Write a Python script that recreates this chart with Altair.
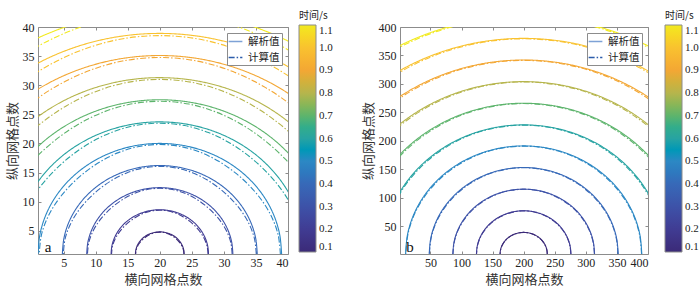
import numpy as np
import pandas as pd
import altair as alt

# ---- values ----
levels = [0.1, 0.2, 0.3, 0.4, 0.5, 0.6, 0.7, 0.8, 0.9, 1.0, 1.1]          # contour times (s)
radius_a = [3.8, 7.6, 11.4, 15.2, 19.0, 22.7, 26.5, 30.3, 34.1, 37.9, 41.7]  # analytic radius, grid 40
radius_b = [38, 76, 114, 152, 190, 227, 265, 303, 341, 379, 417]           # analytic radius, grid 400
center_a = [20, 1]
center_b = [200, 1]
angles = [0, 10, 20, 30, 40, 50, 60, 70, 80, 90, 100, 110, 120, 130, 140, 150, 160, 170, 180]
# computed / analytic radius ratio along the front
ratio_a = [0.990, 0.987, 0.978, 0.968, 0.961, 0.961, 0.968, 0.978, 0.987, 0.990,
           0.987, 0.978, 0.968, 0.961, 0.961, 0.968, 0.978, 0.987, 0.990]
ratio_b = [0.998, 0.997, 0.996, 0.994, 0.993, 0.993, 0.994, 0.996, 0.997, 0.998,
           0.997, 0.996, 0.994, 0.993, 0.993, 0.994, 0.996, 0.997, 0.998]
ticks_a = [5, 10, 15, 20, 25, 30, 35, 40]
ticks_b = [50, 100, 150, 200, 250, 300, 350, 400]
color_stops = ["#3b2a78", "#403c93", "#3d52a8", "#3769b8", "#2c88c4", "#27a3a2",
               "#5db46c", "#b6b54c", "#f3a734", "#f9c22f", "#f2ea1f"]
types = ["解析值", "计算值"]

SERIF = "Liberation Serif, Noto Sans CJK SC"
CJK = "Noto Sans CJK SC"
BOX = "#8c8c8c"
H = 227


def fronts(radii, center, ratio):
    rows = []
    for lv, r in zip(levels, radii):
        for k, ang in enumerate(angles):
            th = np.deg2rad(ang)
            for t, f in ((types[0], 1.0), (types[1], ratio[k])):
                rows.append({"level": lv, "type": t, "idx": k,
                             "x": center[0] + r * f * np.cos(th),
                             "y": center[1] + r * f * np.sin(th)})
    return pd.DataFrame(rows)


def panel(df, dom, ticks, W, tag, cb_gap):
    xs = alt.Scale(domain=dom, nice=False, zero=False)
    ys = alt.Scale(domain=dom, nice=False, zero=False)
    color = alt.Color("level:Q",
                      scale=alt.Scale(domain=levels, range=color_stops),
                      legend=alt.Legend(title="时间/s", orient="none", legendX=W + cb_gap, legendY=-16,
                                        direction="vertical", gradientLength=H, gradientThickness=17,
                                        gradientStrokeColor=BOX, gradientStrokeWidth=1,
                                        values=levels, format=".1f", labelOverlap=False,
                                        labelFont=SERIF, labelFontSize=11, labelOffset=3,
                                        labelColor="#222", titleFont=CJK, titleFontSize=10,
                                        titleFontWeight="normal", titleColor="#222",
                                        titleAnchor="start", titlePadding=4, labelBaseline="middle"))
    dash = alt.StrokeDash("type:N",
                          scale=alt.Scale(domain=types, range=[[1, 0], [6, 2, 1.5, 2]]),
                          legend=alt.Legend(title=None, orient="top-right", offset=6,
                                            fillColor="white", strokeColor=BOX, padding=2,
                                            symbolType="M-1.25,0H1.25", symbolSize=121,
                                            symbolStrokeWidth=1.3,
                                            symbolStrokeColor={"expr": "datum.value === '解析值' ? '#7ea2d6' : '#2b5cab'"},
                                            labelFont=CJK, labelFontSize=10.5, labelColor="#222",
                                            labelOffset=6, rowPadding=4))
    ax_x = dict(values=ticks, ticks=False, domain=False, grid=False, labelPadding=3, titlePadding=5)
    ax_y = dict(values=ticks, ticks=False, domain=False, grid=False, labelPadding=4)
    ax_tick = dict(values=ticks, labels=False, domain=False, grid=False, tickSize=3,
                   tickColor=BOX, title=None)

    solid = alt.Chart(df[df.type == types[0]]).mark_line(
        clip=True, strokeWidth=1.1, interpolate="catmull-rom").encode(
        x=alt.X("x:Q", scale=xs, axis=alt.Axis(title="横向网格点数", orient="bottom", **ax_x)),
        y=alt.Y("y:Q", scale=ys, axis=alt.Axis(title="纵向网格点数", orient="left", **ax_y)),
        color=color, strokeDash=dash, detail="level:N", order="idx:Q")
    dashed = alt.Chart(df[df.type == types[1]]).mark_line(
        clip=True, strokeWidth=1.1, interpolate="catmull-rom").encode(
        x=alt.X("x:Q", scale=xs, axis=alt.Axis(orient="top", offset=-H, **ax_tick)),
        y=alt.Y("y:Q", scale=ys, axis=alt.Axis(orient="right", offset=-W, **ax_tick)),
        color=color, strokeDash=dash, detail="level:N", order="idx:Q")
    ghost = alt.Chart(df[df.type == types[0]]).mark_line(clip=True, strokeOpacity=0).encode(
        x=alt.X("x:Q", scale=xs, axis=alt.Axis(orient="bottom", offset=-H, **ax_tick)),
        y=alt.Y("y:Q", scale=ys, axis=alt.Axis(orient="left", offset=-W, **ax_tick)),
        detail="level:N", order="idx:Q")
    label = alt.Chart(pd.DataFrame({"t": [tag]})).mark_text(
        font=SERIF, fontSize=15, align="center", baseline="alphabetic", color="#111").encode(
        text="t:N", x=alt.value(10), y=alt.value(H - 2))
    return alt.layer(solid, dashed, ghost, label).resolve_axis(
        x="independent", y="independent").properties(width=W, height=H)


pa = panel(fronts(radius_a, center_a, ratio_a), [1, 40], ticks_a, 250, "a", 11)
pb = panel(fronts(radius_b, center_b, ratio_b), [1, 400], ticks_b, 248, "b", 17)

chart = alt.hconcat(pa, pb, spacing=27).resolve_scale(
    x="independent", y="independent").resolve_legend(
    color="independent", strokeDash="independent").properties(
    padding={"left": 5, "right": 0, "top": 10, "bottom": 1}).configure_view(
    stroke=BOX, strokeWidth=1).configure_axis(
    labelFont=SERIF, labelFontSize=12, labelColor="#222",
    titleFont=CJK, titleFontSize=13, titleFontWeight="normal", titleColor="#333",
    titlePadding=3)

chart.save("out.html", embed_options={"renderer": "svg", "actions": False})
